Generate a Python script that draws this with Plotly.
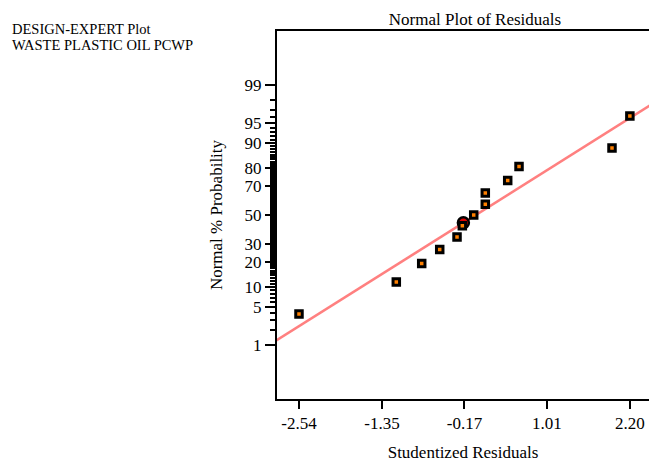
from statistics import NormalDist
import plotly.graph_objects as go

# ---- data ----
residuals = [-2.54, -1.146, -0.782, -0.524, -0.276, -0.200, -0.037, 0.129, 0.129, 0.450, 0.612, 1.944, 2.20]
normal_pct = [3.85, 11.54, 19.23, 26.92, 34.62, 42.31, 50.0, 57.69, 65.38, 73.08, 80.77, 88.46, 96.15]

highlight_x = [-0.185]
highlight_pct = [44.5]

line_x = [-2.9, 2.55]
line_pct = [1.155, 97.77]

x_ticks = [-2.54, -1.35, -0.17, 1.01, 2.20]
x_ticktext = ["-2.54", "-1.35", "-0.17", "1.01", "2.20"]
y_major_pct = [1, 5, 10, 20, 30, 50, 70, 80, 90, 95, 99]
y_minor_pct = [p for p in range(2, 99) if p not in y_major_pct]

nd = NormalDist()
def z(p):
    return nd.inv_cdf(p / 100.0)

FONT = "Liberation Serif, Times New Roman, serif"

fig = go.Figure()
fig.add_trace(go.Scatter(
    x=line_x, y=[z(p) for p in line_pct], mode="lines",
    line=dict(color="#ff8080", width=2.6), hoverinfo="skip", showlegend=False))
fig.add_trace(go.Scatter(
    x=highlight_x, y=[z(p) for p in highlight_pct], mode="markers",
    marker=dict(symbol="circle", size=11, color="#e00000", line=dict(color="black", width=2.5)),
    showlegend=False))
fig.add_trace(go.Scatter(
    x=residuals, y=[z(p) for p in normal_pct], mode="markers",
    marker=dict(symbol="square", size=6.5, color="#ff8000", line=dict(color="black", width=3)),
    showlegend=False))

L, R, T, B = 277, 649, 31, 399
W, H = 649, 462
def px(xp):
    return (xp - L) / (R - L)
def py(yp):
    return (B - yp) / (B - T)

fig.update_layout(
    width=W, height=H,
    margin=dict(l=L, r=W - R, t=T, b=H - B),
    paper_bgcolor="white", plot_bgcolor="white",
    font=dict(family=FONT, size=17, color="black"),
    title=dict(text="Normal Plot of Residuals", x=475 / W, xref="container", xanchor="center",
               y=1 - 19 / H, yref="container", yanchor="middle",
               font=dict(family=FONT, size=17, color="black")),
    xaxis=dict(range=[-2.855, 2.474], tickmode="array", tickvals=x_ticks, ticktext=x_ticktext,
               showgrid=False, zeroline=False, showline=True, linecolor="black", linewidth=2,
               mirror=True, ticks="outside", ticklen=8, tickwidth=2, tickcolor="black",
               title=dict(text="Studentized Residuals", font=dict(family=FONT, size=17), standoff=14)),
    yaxis=dict(range=[-3.2905, 3.2905], tickmode="array", tickvals=[z(p) for p in y_major_pct],
               ticktext=[str(p) for p in y_major_pct],
               showgrid=False, zeroline=False, showline=True, linecolor="black", linewidth=2,
               mirror=False, ticks="outside", ticklen=10, tickwidth=2, tickcolor="black",
               minor=dict(tickmode="array", tickvals=[z(p) for p in y_minor_pct], ticks="outside",
                          ticklen=5, tickwidth=1.5, tickcolor="black", showgrid=False),
               title=dict(text="Normal % Probability", font=dict(family=FONT, size=17), standoff=18)),
    annotations=[
        dict(text="DESIGN-EXPERT Plot", xref="paper", yref="paper", x=px(10), y=py(29),
             xanchor="left", yanchor="middle", showarrow=False, font=dict(family=FONT, size=14.5)),
        dict(text="WASTE PLASTIC OIL PCWP", xref="paper", yref="paper", x=px(10), y=py(45),
             xanchor="left", yanchor="middle", showarrow=False, font=dict(family=FONT, size=14.5)),
    ],
)

fig.write_html("out.html")
